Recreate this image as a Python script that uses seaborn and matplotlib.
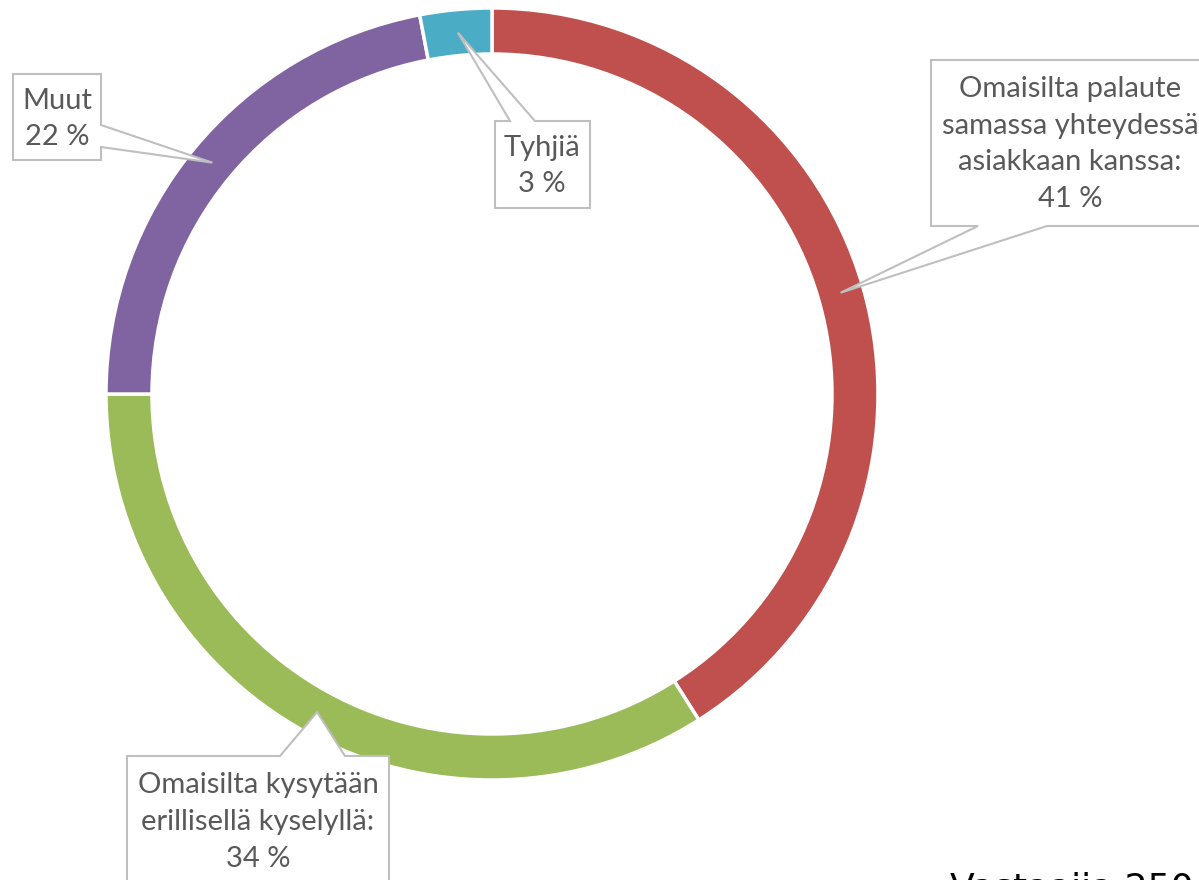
import numpy as np
import matplotlib
matplotlib.use("Agg")
import matplotlib.pyplot as plt
from matplotlib.patches import Polygon
import seaborn as sns

# Share of answers by feedback channel
categories = [
    "Omaisilta palaute\nsamassa yhteydessä\nasiakkaan kanssa:",
    "Omaisilta kysytään\nerillisellä kyselyllä:",
    "Muut",
    "Tyhjiä",
]
shares = [41, 34, 22, 3]
value_labels = ["41 %", "34 %", "22 %", "3 %"]
footer = "Vastaajia 250"

sns.set_theme(style="white")
plt.rcParams["font.family"] = ["Lato", "DejaVu Sans"]
palette = sns.color_palette(["#C0504D", "#9BBB59", "#8064A2", "#4BACC6"])

W, H = 1199, 880
fig = plt.figure(figsize=(W / 100, H / 100), dpi=100)
ax = fig.add_axes([0, 0, 1, 1])

cx, cy, R, ring = 492, H - 394, 386, 46
wedges, _ = ax.pie(
    shares, colors=palette, startangle=90, counterclock=False,
    center=(cx, cy), radius=R,
    wedgeprops=dict(width=ring, edgecolor="white", linewidth=2.5),
)
ax.set_xlim(0, W)
ax.set_ylim(0, H)
ax.set_aspect("equal")
ax.axis("off")


def tip_of(w):
    ang = np.deg2rad((w.theta1 + w.theta2) / 2)
    r = R - ring / 2
    return cx + r * np.cos(ang), cy + r * np.sin(ang)


edge = "#BFBFBF"
txt = "#595959"
fs = 21


def callout(pts, text_xy, text):
    ax.add_patch(Polygon(pts, closed=True, facecolor="white",
                         edgecolor=edge, linewidth=1.5, zorder=5))
    ax.text(*text_xy, text, ha="center", va="center", color=txt,
            fontsize=fs, linespacing=1.52, zorder=6)


def y(v):
    return H - v


# red slice, box on the right
tx, ty = tip_of(wedges[0])
callout([(931, y(60)), (1215, y(60)), (1215, y(226)), (1047, y(226)),
         (tx, ty), (978, y(226)), (931, y(226))],
        (1070, y(144)), categories[0] + "\n" + value_labels[0])

# green slice, box at the bottom
tx, ty = tip_of(wedges[1])
callout([(127, y(756)), (280, y(756)), (tx, ty), (345, y(756)),
         (389, y(756)), (389, y(900)), (127, y(900))],
        (258, y(822)), categories[1] + "\n" + value_labels[1])

# purple slice, box top left
tx, ty = tip_of(wedges[2])
callout([(13, y(74)), (101, y(74)), (101, y(125)), (tx, ty),
         (101, y(147)), (101, y(160)), (13, y(160))],
        (57, y(119)), categories[2] + "\n" + value_labels[2])

# blue slice, box under the ring top
tx, ty = tip_of(wedges[3])
callout([(495, y(121)), (510, y(121)), (tx, ty), (535, y(121)),
         (590, y(121)), (590, y(208)), (495, y(208))],
        (542, y(166)), categories[3] + "\n" + value_labels[3])

ax.text(950, y(899), footer, ha="left", va="baseline", color="black",
        fontsize=26, family=["DejaVu Sans"])

fig.savefig("out.png", dpi=100)
